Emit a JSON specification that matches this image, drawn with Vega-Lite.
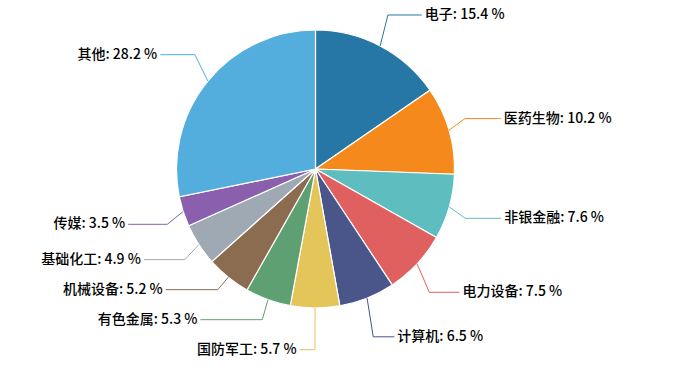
{
  "$schema": "https://vega.github.io/schema/vega-lite/v6.json",
  "autosize": {"type": "none"},
  "width": 631,
  "height": 338,
  "padding": {"left": 0, "top": 0, "right": 46, "bottom": 31},
  "background": "white",
  "config": {"view": {"stroke": null}},
  "data": {
    "values": [
      {"idx": 1, "name": "电子", "v": 15.4},
      {"idx": 2, "name": "医药生物", "v": 10.2},
      {"idx": 3, "name": "非银金融", "v": 7.6},
      {"idx": 4, "name": "电力设备", "v": 7.5},
      {"idx": 5, "name": "计算机", "v": 6.5},
      {"idx": 6, "name": "国防军工", "v": 5.7},
      {"idx": 7, "name": "有色金属", "v": 5.3},
      {"idx": 8, "name": "机械设备", "v": 5.2},
      {"idx": 9, "name": "基础化工", "v": 4.9},
      {"idx": 10, "name": "传媒", "v": 3.5},
      {"idx": 11, "name": "其他", "v": 28.2}
    ]
  },
  "transform": [
    {"window": [{"op": "sum", "field": "v", "as": "cum"}], "sort": [{"field": "idx"}], "frame": [null, 0]},
    {"joinaggregate": [{"op": "sum", "field": "v", "as": "tot"}]},
    {"calculate": "(datum.cum - datum.v/2)/datum.tot*2*PI", "as": "mid"},
    {"calculate": "sin(datum.mid)", "as": "sx"},
    {"calculate": "cos(datum.mid)", "as": "cy"},
    {"calculate": "datum.sx >= 0 ? 1 : -1", "as": "sgn"},
    {"calculate": "1.3*datum.cy", "as": "yr"},
    {"window": [{"op": "row_number", "as": "k"}], "groupby": ["sgn"], "sort": [{"field": "yr", "order": "ascending"}]},
    {"calculate": "datum.yr - 0.216*datum.k", "as": "z"},
    {"window": [{"op": "max", "field": "z", "as": "zmax"}], "groupby": ["sgn"], "sort": [{"field": "yr", "order": "ascending"}], "frame": [null, 0]},
    {"calculate": "min(datum.zmax + 0.216*datum.k, 1.108)", "as": "ly"},
    {"calculate": "datum.sgn*sqrt(max(0, 1.69 - datum.ly*datum.ly))", "as": "lx"},
    {"calculate": "datum.lx + datum.sgn*(datum.sgn > 0 ? 0.085 : 0.11)", "as": "ax"},
    {"calculate": "1.12*datum.sx", "as": "px"},
    {"calculate": "datum.name + ': ' + format(datum.v, '.1f') + ' %'", "as": "label"}
  ],
  "encoding": {
    "color": {
      "field": "name",
      "type": "nominal",
      "legend": null,
      "scale": {
        "domain": ["电子", "医药生物", "非银金融", "电力设备", "计算机", "国防军工", "有色金属", "机械设备", "基础化工", "传媒", "其他"],
        "range": ["#2677a5", "#f5891b", "#5ebdbf", "#e05f5f", "#4a5589", "#e4c55a", "#5fa073", "#8c6c50", "#9ea9b3", "#8a5fad", "#53aedd"]
      }
    }
  },
  "layer": [
    {
      "mark": {"type": "arc", "outerRadius": 139, "stroke": "white", "strokeWidth": 1.2},
      "encoding": {
        "theta": {"field": "v", "type": "quantitative", "stack": true},
        "order": {"field": "idx", "type": "quantitative", "sort": "ascending"}
      }
    },
    {
      "mark": {"type": "rule", "strokeWidth": 1},
      "encoding": {
        "x": {"field": "sx", "type": "quantitative", "scale": {"domain": [-2.2698, 2.2698], "nice": false, "zero": false}, "axis": null},
        "y": {"field": "cy", "type": "quantitative", "scale": {"domain": [-1.2158, 1.2158], "nice": false, "zero": false}, "axis": null},
        "x2": {"field": "px"},
        "y2": {"field": "ly"}
      }
    },
    {
      "mark": {"type": "rule", "strokeWidth": 1},
      "encoding": {
        "x": {"field": "px", "type": "quantitative"},
        "y": {"field": "ly", "type": "quantitative"},
        "x2": {"field": "ax"}
      }
    },
    {
      "transform": [{"filter": "datum.sgn > 0"}],
      "mark": {"type": "text", "align": "left", "baseline": "middle", "dx": 3, "font": "Noto Sans CJK SC", "fontSize": 14, "fontWeight": 500, "fill": "#000"},
      "encoding": {
        "x": {"field": "ax", "type": "quantitative"},
        "y": {"field": "ly", "type": "quantitative"},
        "text": {"field": "label"},
        "color": {"value": "#000"}
      }
    },
    {
      "transform": [{"filter": "datum.sgn < 0"}],
      "mark": {"type": "text", "align": "right", "baseline": "middle", "dx": -3, "font": "Noto Sans CJK SC", "fontSize": 14, "fontWeight": 500, "fill": "#000"},
      "encoding": {
        "x": {"field": "ax", "type": "quantitative"},
        "y": {"field": "ly", "type": "quantitative"},
        "text": {"field": "label"},
        "color": {"value": "#000"}
      }
    }
  ]
}
